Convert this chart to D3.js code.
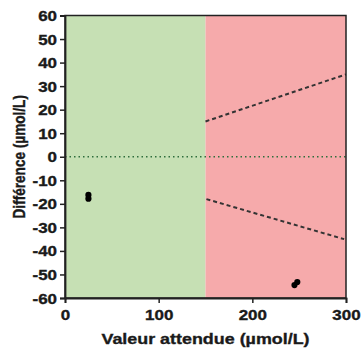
<!DOCTYPE html>
<html>
<head>
<meta charset="utf-8">
<script src="https://cdn.jsdelivr.net/npm/d3@7"></script>
<style>
  html, body { margin: 0; padding: 0; background: #fff; }
  svg text { font-family: "Liberation Sans", Arial, sans-serif; font-weight: bold; fill: #1a1a1a;
             stroke: #1a1a1a; stroke-width: 0.35px; }
</style>
</head>
<body>
<svg id="chart" width="362" height="350"></svg>
<script>
// Acceptance zones along the expected value axis
const zones = [
  { from: 0, to: 150, color: "#c6e0b4" },
  { from: 150, to: 300, color: "#f6aaab" }
];
// Measured differences (expected value, difference)
const pointsX = [25, 25, 245, 248];
const pointsY = [-16.2, -17.8, -54.5, -53.2];
// Upper and lower limit lines in the red zone
const upperLimitX = [150, 300];
const upperLimitY = [15, 35];
const lowerLimitX = [151, 298];
const lowerLimitY = [-18, -35];
// Axis ticks
const xTicks = [0, 100, 200, 300];
const yTicks = d3.range(-60, 61, 10);

const svg = d3.select("#chart");
const m = { left: 65, right: 16, top: 15.5, bottom: 52 };
const W = 362, H = 350;
const x = d3.scaleLinear().domain([0, 300]).range([m.left, W - m.right]);
const y = d3.scaleLinear().domain([-60, 60]).range([H - m.bottom, m.top]);
const sx = 1.17; // horizontal widening of the lettering

// Background zones
svg.selectAll("rect.zone").data(zones).join("rect")
  .attr("class", "zone")
  .attr("x", d => x(d.from)).attr("width", d => x(d.to) - x(d.from))
  .attr("y", y(60)).attr("height", y(-60) - y(60))
  .attr("fill", d => d.color);

// Zero reference line
svg.append("line")
  .attr("x1", x(0)).attr("x2", x(300)).attr("y1", y(0)).attr("y2", y(0))
  .attr("stroke", "#2f6e3c").attr("stroke-width", 1.5).attr("stroke-dasharray", "1.5,3");

// Limit lines
const line = d3.line().x(d => x(d[0])).y(d => y(d[1]));
[[upperLimitX, upperLimitY], [lowerLimitX, lowerLimitY]].forEach(([xs, ys]) => {
  svg.append("path")
    .attr("d", line(xs.map((v, i) => [v, ys[i]])))
    .attr("fill", "none").attr("stroke", "#333").attr("stroke-width", 2)
    .attr("stroke-dasharray", "4,3");
});

// Points
svg.selectAll("circle.pt").data(pointsX.map((v, i) => [v, pointsY[i]])).join("circle")
  .attr("class", "pt")
  .attr("cx", d => x(d[0])).attr("cy", d => y(d[1])).attr("r", 3.1)
  .attr("fill", "#000");

// Frame
svg.append("rect")
  .attr("x", x(0)).attr("y", y(60)).attr("width", x(300) - x(0)).attr("height", y(-60) - y(60))
  .attr("fill", "none").attr("stroke", "#222").attr("stroke-width", 1.5);

// Axes
const fmt = d => String(d);
const yAxis = svg.append("g").attr("transform", `translate(${x(0)},0)`)
  .call(d3.axisLeft(y).tickValues(yTicks).tickFormat(fmt).tickSize(5).tickPadding(3));
const xAxis = svg.append("g").attr("transform", `translate(0,${y(-60)})`)
  .call(d3.axisBottom(x).tickValues(xTicks).tickFormat(fmt).tickSize(5).tickPadding(3));
[yAxis, xAxis].forEach(g => {
  g.select(".domain").attr("stroke", "#222").attr("stroke-width", 1.8);
  g.selectAll(".tick line").attr("stroke", "#222").attr("stroke-width", 1.5);
  g.selectAll(".tick text").attr("font-size", 14.5).attr("fill", "#1a1a1a")
    .style("font-family", "'Liberation Sans', Arial, sans-serif").style("font-weight", "bold");
});
yAxis.selectAll(".tick text")
  .attr("x", 0).attr("dy", "0.35em")
  .attr("transform", `translate(-8,0) scale(${sx},1)`);
xAxis.selectAll(".tick text")
  .attr("y", 0).attr("dy", 0)
  .attr("transform", `translate(0,22) scale(${sx},1)`);

// Axis titles
svg.append("text")
  .attr("transform", `translate(${(x(0) + x(300)) / 2},343.5) scale(${sx},1)`)
  .attr("text-anchor", "middle").attr("font-size", 15.3)
  .text("Valeur attendue (µmol/L)");
svg.append("text")
  .attr("transform", `translate(25,${(y(60) + y(-60)) / 2}) scale(${sx},1) rotate(-90)`)
  .attr("text-anchor", "middle").attr("font-size", 13.6)
  .text("Différence (µmol/L)");
</script>
</body>
</html>
